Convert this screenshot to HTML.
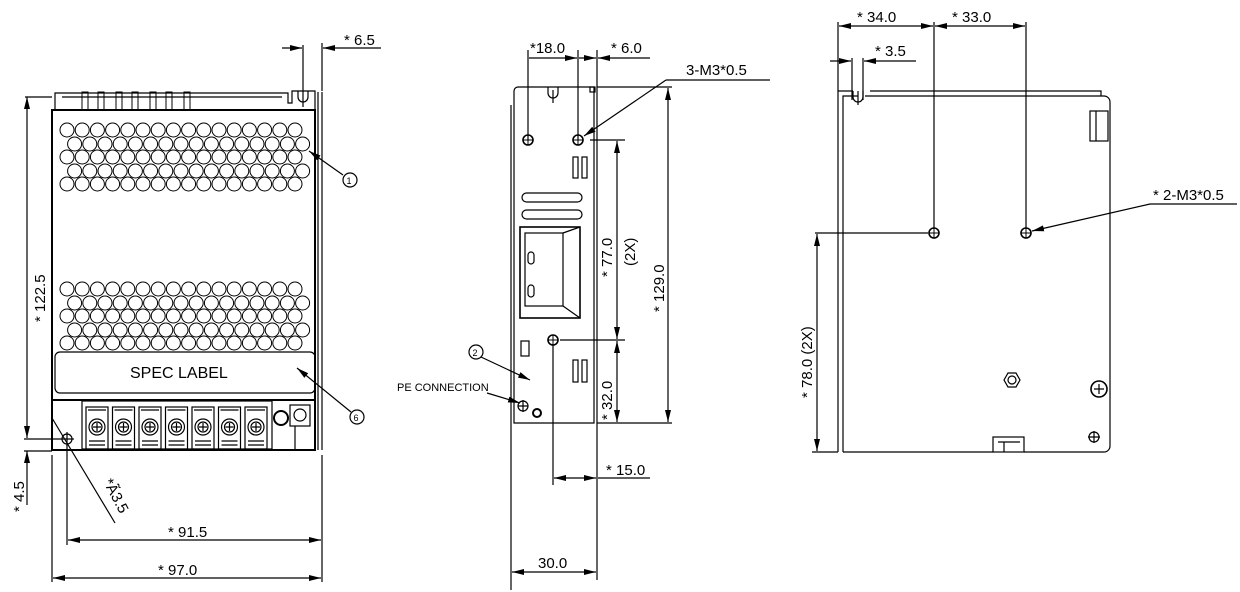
<!DOCTYPE html>
<html><head><meta charset="utf-8"><style>
html,body{margin:0;padding:0;background:#fff;width:1240px;height:592px;overflow:hidden}
svg{display:block}
text{font-family:"Liberation Sans",sans-serif;font-size:15px;fill:#000}
</style></head><body>
<svg id="s" width="1240" height="592" viewBox="0 0 1240 592" xmlns="http://www.w3.org/2000/svg">
<defs>
<marker id="a" viewBox="0 0 10 6" refX="10" refY="3" markerWidth="10" markerHeight="6" orient="auto-start-reverse"><path d="M0,0.5 L10,3 L0,5.5 Z" fill="#000"/></marker>
</defs>
<g fill="none" stroke="#000" stroke-width="1.2">
<path d="M55,110 V93 H288 V103 H292 V91 H315 V110"/>
<line x1="62" y1="97" x2="282" y2="97"/>
<g stroke-width="1">
<rect x="82" y="92" width="6" height="18"/><rect x="98" y="92" width="6" height="18"/><rect x="116" y="92" width="6" height="18"/><rect x="132" y="92" width="6" height="18"/><rect x="150" y="92" width="6" height="18"/><rect x="166" y="92" width="6" height="18"/><rect x="184" y="92" width="6" height="18"/>
</g>
<path d="M298,91 v6 a5,5 0 0 0 10,0 v-6"/><line x1="303" y1="91" x2="303" y2="107"/>
<rect x="52" y="110" width="263" height="340" stroke-width="2"/>
<line x1="318" y1="92" x2="318" y2="450"/><line x1="322" y1="92" x2="322" y2="450"/>
<g id="holes" stroke-width="1"></g>
<rect x="55" y="352" width="260" height="41" rx="5"/>
<line x1="52" y1="400" x2="315" y2="400" stroke-width="2"/>
<rect x="82" y="401" width="190" height="48"/>
<g id="terms" stroke-width="1.2"></g>
<circle cx="281" cy="418" r="7" stroke-width="2"/>
<rect x="290" y="405" width="20" height="21"/><circle cx="300" cy="415" r="6"/>
<line x1="295" y1="426" x2="295" y2="450"/>
<circle cx="67" cy="439" r="5"/><line x1="67" y1="432" x2="67" y2="446"/><line x1="60" y1="439" x2="74" y2="439"/>
<line x1="25" y1="97" x2="52" y2="97"/>
<line x1="27" y1="97" x2="27" y2="438" marker-start="url(#a)" marker-end="url(#a)"/>
<line x1="24" y1="439" x2="60" y2="439"/>
<line x1="24" y1="451" x2="52" y2="451"/>
<line x1="27" y1="451" x2="27" y2="505" marker-start="url(#a)"/>
<line x1="67" y1="445" x2="67" y2="545"/>
<line x1="52" y1="455" x2="52" y2="582"/>
<line x1="322" y1="455" x2="322" y2="582"/>
<line x1="68" y1="540" x2="321" y2="540" marker-start="url(#a)" marker-end="url(#a)"/>
<line x1="53" y1="578" x2="321" y2="578" marker-start="url(#a)" marker-end="url(#a)"/>
<line x1="52" y1="418" x2="115" y2="523"/>
<line x1="303" y1="45" x2="303" y2="91"/><line x1="322" y1="43" x2="322" y2="91"/>
<line x1="282" y1="48" x2="302" y2="48" marker-end="url(#a)"/>
<line x1="381" y1="48" x2="323" y2="48" marker-end="url(#a)"/>
<circle cx="350" cy="180" r="7"/><line x1="343" y1="175" x2="309" y2="151" marker-end="url(#a)"/>
<circle cx="357" cy="417" r="7"/><line x1="351" y1="412" x2="297" y2="368" marker-end="url(#a)"/>
<path d="M514,423 V91 a4,4 0 0 1 4,-4 H594 V423 Z"/>
<line x1="597" y1="87" x2="597" y2="423"/><line x1="511" y1="105" x2="511" y2="590"/>
<rect x="590" y="87" width="5" height="5"/>
<path d="M548,87 v6 a5,5 0 0 0 10,0 v-6"/><line x1="553" y1="90" x2="553" y2="103"/>
<g stroke-width="1.6">
<circle cx="528" cy="140" r="5"/><circle cx="578" cy="140" r="5"/><circle cx="553" cy="340" r="5"/>
</g>
<path d="M523,140h10M528,135v10M573,140h10M578,135v10M548,340h10M553,335v10" stroke-width="1"/>
<rect x="573" y="157" width="5" height="21"/><rect x="582" y="157" width="5" height="21"/>
<rect x="573" y="360" width="5" height="22"/><rect x="582" y="360" width="5" height="22"/>
<rect x="522" y="193" width="60" height="9" rx="4.5"/><rect x="522" y="210" width="60" height="9" rx="4.5"/>
<rect x="520" y="227" width="60" height="91" stroke-width="1.6"/>
<rect x="525" y="233" width="38" height="73"/>
<path d="M563,233 L580,227 M563,306 L580,318"/>
<rect x="528" y="252" width="6" height="12" rx="3"/><rect x="528" y="285" width="6" height="12" rx="3"/>
<rect x="521" y="341" width="8" height="15"/>
<circle cx="523" cy="406" r="5"/><path d="M518,406h10M523,400v12"/>
<circle cx="537" cy="413" r="4" stroke-width="2"/>
<line x1="528" y1="50" x2="528" y2="140"/><line x1="578" y1="50" x2="578" y2="140"/><line x1="597" y1="50" x2="597" y2="87"/>
<line x1="529" y1="58" x2="577" y2="58" marker-end="url(#a)"/>
<line x1="579" y1="58" x2="596" y2="58" marker-end="url(#a)"/>
<line x1="650" y1="58" x2="598" y2="58" marker-end="url(#a)"/>
<line x1="770" y1="80" x2="666" y2="80"/><line x1="666" y1="80" x2="584" y2="136" marker-end="url(#a)"/>
<line x1="590" y1="140" x2="625" y2="140"/><line x1="560" y1="340" x2="625" y2="340"/>
<line x1="597" y1="87" x2="672" y2="87"/><line x1="597" y1="423" x2="672" y2="423"/>
<line x1="617" y1="141" x2="617" y2="339" marker-start="url(#a)" marker-end="url(#a)"/>
<line x1="617" y1="341" x2="617" y2="422" marker-start="url(#a)" marker-end="url(#a)"/>
<line x1="668" y1="88" x2="668" y2="422" marker-start="url(#a)" marker-end="url(#a)"/>
<line x1="553" y1="345" x2="553" y2="485"/><line x1="597" y1="423" x2="597" y2="580"/>
<line x1="554" y1="478" x2="596" y2="478" marker-start="url(#a)" marker-end="url(#a)"/>
<line x1="650" y1="478" x2="598" y2="478"/>
<line x1="512" y1="572" x2="596" y2="572" marker-start="url(#a)" marker-end="url(#a)"/>
<circle cx="476" cy="352" r="7"/><line x1="481" y1="357" x2="530" y2="380" marker-end="url(#a)"/>
<line x1="487" y1="393" x2="520" y2="403" marker-end="url(#a)"/>
<path d="M838,452 V91 H853 M870,91 H1101 V96"/>
<path d="M843,452 V96 H853 M870,96 H1104 a6,6 0 0 1 6,6 V446 a6,6 0 0 1 -6,6 H1024 M993,452 H843"/>
<path d="M853,91 v6 a5,5 0 0 0 10,0 v-6 M853,96 H858 M865,96 H870"/><line x1="858" y1="91" x2="858" y2="105"/>
<rect x="1090" y="111" width="18" height="30"/><line x1="1096" y1="111" x2="1096" y2="141"/>
<rect x="993" y="437" width="31" height="15"/><line x1="1004" y1="442" x2="1004" y2="452"/><line x1="998" y1="442" x2="1020" y2="442"/>
<g stroke-width="1.6"><circle cx="934" cy="233" r="5"/><circle cx="1026" cy="233" r="5"/></g>
<path d="M929,233h10M934,228v10M1021,233h10M1026,228v10" stroke-width="1"/>
<path d="M1004,380 l4,-7 h8 l4,7 l-4,7 h-8 Z"/><circle cx="1012" cy="380" r="4"/>
<circle cx="1099" cy="389" r="8" stroke-width="1.6"/><path d="M1094,389h10M1099,384v10"/>
<circle cx="1094" cy="437" r="5"/><path d="M1088,437h12M1094,431v12"/>
<line x1="838" y1="22" x2="838" y2="91"/><line x1="934" y1="22" x2="934" y2="228"/><line x1="1026" y1="22" x2="1026" y2="228"/>
<line x1="839" y1="26" x2="933" y2="26" marker-start="url(#a)" marker-end="url(#a)"/>
<line x1="935" y1="26" x2="1025" y2="26" marker-start="url(#a)" marker-end="url(#a)"/>
<line x1="852" y1="58" x2="852" y2="100"/><line x1="863" y1="58" x2="863" y2="100"/>
<line x1="830" y1="61" x2="851" y2="61" marker-end="url(#a)"/>
<line x1="916" y1="61" x2="864" y2="61" marker-end="url(#a)"/>
<line x1="1237" y1="204" x2="1150" y2="204"/><line x1="1150" y1="204" x2="1032" y2="231" marker-end="url(#a)"/>
<line x1="815" y1="233" x2="928" y2="233"/><line x1="812" y1="452" x2="838" y2="452"/>
<line x1="817" y1="234" x2="817" y2="451" marker-start="url(#a)" marker-end="url(#a)"/>
</g>
<text x="344" y="45">* 6.5</text>
<text x="0" y="0" transform="translate(45,322) rotate(-90)">* 122.5</text>
<text x="0" y="0" transform="translate(24,512) rotate(-90)">* 4.5</text>
<text x="168" y="537">* 91.5</text>
<text x="158" y="575">* 97.0</text>
<text x="130" y="378" style="font-size:16px">SPEC LABEL</text>
<text x="0" y="0" transform="translate(103,482) rotate(62)">*Ã3.5</text>
<text x="346.5" y="184" style="font-size:9px">1</text>
<text x="353.5" y="421" style="font-size:9px">6</text>
<text x="530" y="53">*18.0</text>
<text x="611" y="53">* 6.0</text>
<text x="686" y="75">3-M3*0.5</text>
<text x="0" y="0" transform="translate(612,277) rotate(-90)">* 77.0</text>
<text x="0" y="0" transform="translate(635,266) rotate(-90)">(2X)</text>
<text x="0" y="0" transform="translate(664,312) rotate(-90)">* 129.0</text>
<text x="0" y="0" transform="translate(612,420) rotate(-90)">* 32.0</text>
<text x="606" y="475">* 15.0</text>
<text x="538" y="568">30.0</text>
<text x="472.5" y="356" style="font-size:9px">2</text>
<text x="397" y="391" style="font-size:11px">PE CONNECTION</text>
<text x="857" y="22">* 34.0</text>
<text x="952" y="22">* 33.0</text>
<text x="875" y="56">* 3.5</text>
<text x="1153" y="200">*  2-M3*0.5</text>
<text x="0" y="0" transform="translate(812,398) rotate(-90)">* 78.0 (2X)</text>
</svg>
<script>
var ns="http://www.w3.org/2000/svg",h=document.getElementById("holes"),t=document.getElementById("terms");
function c(g,x,y,r){var e=document.createElementNS(ns,"circle");e.setAttribute("cx",x);e.setAttribute("cy",y);e.setAttribute("r",r);g.appendChild(e);}
function grp(ys){for(var i=0;i<ys.length;i++){var off=(i%2)?7.6:0;for(var k=0;k<16;k++)c(h,67+off+k*15.2,ys[i],7);}}
grp([130,144,157,171,184]);grp([289,303,316,330,343]);
for(var k=0;k<7;k++){var x=86+k*26.5;var r=document.createElementNS(ns,"rect");r.setAttribute("x",x);r.setAttribute("y",407);r.setAttribute("width",22);r.setAttribute("height",42);t.appendChild(r);c(t,x+11,427,8);c(t,x+11,427,5);
var p=document.createElementNS(ns,"path");p.setAttribute("d","M"+(x+7)+",427h8M"+(x+11)+",423v8M"+(x+3)+",441h16M"+(x+3)+",445h16M"+(x+2)+",410h18");t.appendChild(p);}
</script>
</body></html>
